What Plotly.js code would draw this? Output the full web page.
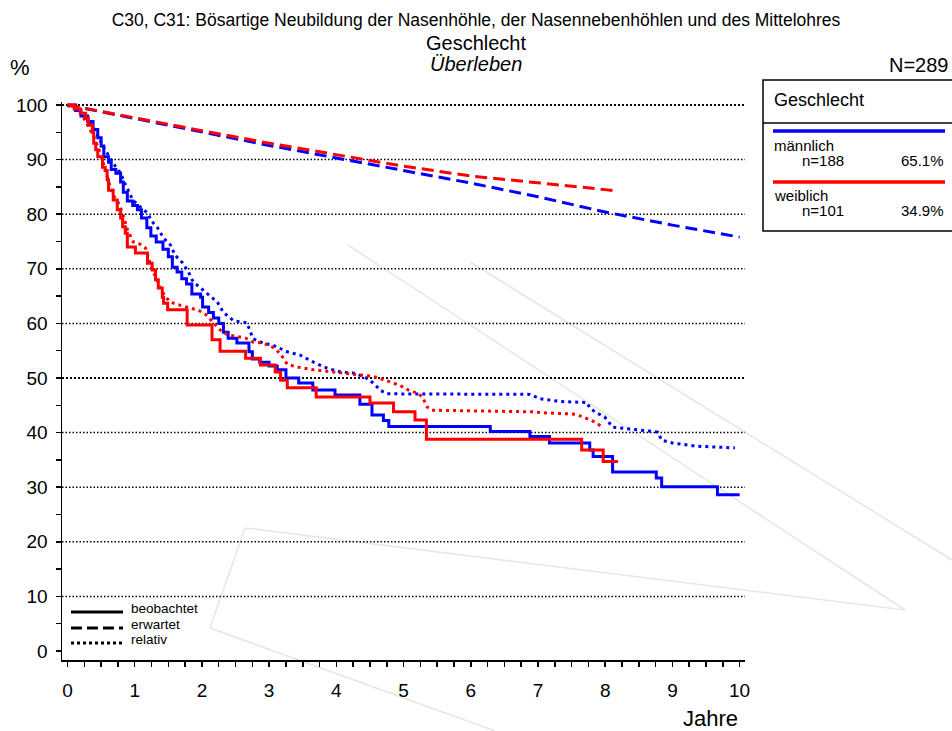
<!DOCTYPE html>
<html>
<head>
<meta charset="utf-8">
<script src="https://cdn.plot.ly/plotly-3.0.1.min.js"></script>
<style>html,body{margin:0;padding:0;background:#fff;}#chart{width:952px;height:731px;}</style>
</head>
<body>
<div id="chart"></div>
<script>
// ---------- data ----------
const maleObsT = [0,0.12,0.2,0.3,0.38,0.45,0.5,0.54,0.61,0.65,0.72,0.79,0.83,0.89,0.97,1.04,1.1,1.18,1.24,1.32,1.42,1.5,1.56,1.63,1.7,1.77,1.85,1.98,2.01,2.1,2.17,2.25,2.32,2.39,2.52,2.7,2.75,2.86,3.0,3.12,3.25,3.44,3.65,3.98,4.35,4.53,4.7,4.78,6.29,6.88,7.17,7.77,7.82,8.11,8.76,8.84,9.67,10.0];
const maleObsS = [100,99,98,97,95.5,94,92.5,90.5,89.5,88.2,87.5,85.9,84,82.4,81.6,80.8,79.3,77.5,76,74.9,73.6,72.2,70.3,69.4,68.2,67.2,65.4,64.8,63,62,61,60,58.4,57.3,56.4,54.8,53.5,52.9,52.2,51.5,50.0,49.1,47.8,46.9,45.2,43.2,42.2,41.1,40.2,39.3,38.1,36.8,35.6,32.8,31.7,30.1,28.6,28.6];

const femaleObsT = [0,0.1,0.19,0.27,0.31,0.37,0.39,0.42,0.45,0.52,0.56,0.59,0.61,0.68,0.74,0.79,0.82,0.86,0.89,1.01,1.19,1.26,1.31,1.35,1.41,1.43,1.49,1.78,2.15,2.27,2.65,2.87,3.09,3.17,3.27,3.7,4.5,4.85,5.17,5.34,7.65,7.97,8.19];
const femaleObsS = [100,99.3,98.5,97.6,96.3,95,93,91.8,90.5,88.6,88,86.3,84.4,82.6,80.8,79.3,77.7,76.5,74,72.9,71,69.8,68,66.5,64.8,63.7,62.5,59.7,57,54.9,53.6,52.4,51.1,49.6,48.2,46.5,45.4,43.8,42.3,38.8,36.8,34.7,34.7];

const maleRelT = [0,0.2,0.4,0.55,0.71,0.79,0.86,0.97,1.05,1.19,1.26,1.34,1.43,1.53,1.6,1.71,1.8,1.87,1.98,2.1,2.23,2.32,2.47,2.67,2.72,2.76,2.91,3.06,3.27,3.46,3.66,3.86,4.06,4.25,4.4,4.5,4.58,4.65,4.75,6.88,7.03,7.33,7.73,7.77,7.87,7.99,8.11,8.32,8.66,8.78,8.84,9.0,9.36,9.93];
const maleRelS = [100,98.5,95.5,92,88.8,87.5,85.5,82.6,81.7,80.2,78.6,77.5,75.6,74.4,72.5,71.1,69.4,67.6,66.5,65.2,63.9,62,60.5,60.1,58.4,57.2,56.4,56,54.8,54.2,52.9,51.8,51.1,50.9,50.3,49.6,48.7,47.8,47.1,47.0,46.2,45.7,45.5,44.5,43.6,42.9,41,40.7,40.3,40.1,38.6,38.1,37.5,37.2];

const femaleRelT = [0,0.2,0.4,0.5,0.61,0.68,0.76,0.82,0.89,0.98,1.08,1.16,1.2,1.26,1.34,1.38,1.45,1.53,1.68,1.85,1.95,2.05,2.15,2.27,2.38,2.5,2.65,2.76,2.91,3.06,3.17,3.27,3.42,3.66,3.95,4.25,4.55,4.8,4.95,5.1,5.22,5.29,5.35,5.42,6.93,7.13,7.52,7.67,7.77,7.85,7.95];
const femaleRelS = [100,98.6,94,90.8,86,83.5,82,80.2,77.2,74.9,74.5,73.8,72.2,69.8,67.8,66.5,65,63.9,63.3,62.7,62.4,61.7,60.3,58.8,57.9,57.6,57.3,56.6,56.4,55.6,54.4,52.5,52,51.5,51.1,50.7,50.3,49.3,48.6,47.6,47.2,46.3,44.7,44.1,43.8,43.6,43.4,42.9,42.3,41.9,41.1];

const maleExpT = [0,1,2,3,4,5,6,7,8,9,10];
const maleExpS = [100,97.5,95.1,92.6,90.3,88.0,85.7,83.2,80.4,78.0,75.8];
const femaleExpT = [0,1,2,3,4,5,6,7,8,8.19];
const femaleExpS = [100,97.6,95.3,93.0,90.9,88.8,87.0,85.8,84.5,84.2];

const groups = ['männlich','weiblich'];
const groupN = ['n=188','n=101'];
const groupPct = ['65.1%','34.9%'];
const xTicks = [0,1,2,3,4,5,6,7,8,9,10];
const yTicks = [0,10,20,30,40,50,60,70,80,90,100];

// ---------- styling ----------
const BLUE = '#0000ff', RED = '#ff0000';
const FONT = 'Liberation Sans, Arial, sans-serif';
const L = 62, R = 745, T = 102, B = 660; // plot area in pixels
const px = v => (v - L) / (R - L);
const py = v => (B - v) / (B - T);
const DASH = '12px,6px', DOT = '3px,4px';

function tr(x, y, color, dash, shape) {
  return {x: x, y: y, type: 'scatter', mode: 'lines', hoverinfo: 'skip', showlegend: false,
    line: {color: color, width: 3, dash: dash, shape: shape || 'linear'}};
}
const traces = [
  tr(maleExpT, maleExpS, BLUE, DASH),
  tr(maleRelT, maleRelS, BLUE, DOT),
  tr(maleObsT, maleObsS, BLUE, 'solid', 'hv'),
  tr(femaleExpT, femaleExpS, RED, DASH),
  tr(femaleRelT, femaleRelS, RED, DOT),
  tr(femaleObsT, femaleObsS, RED, 'solid', 'hv')
];

const shapes = [];
// faint background watermark lines
const wm = [[348,245,905,610],[245,528,905,610],[245,528,210,628],[210,628,495,731],[470,262,952,560]];
wm.forEach(w => shapes.push({type:'line', xref:'paper', yref:'paper', x0:px(w[0]), y0:py(w[1]), x1:px(w[2]), y1:py(w[3]), layer:'below', line:{color:'#e6e6e6', width:1.5}}));
// dotted grid lines
yTicks.filter(v => v > 0).forEach(v => {
  const bold = (v === 50 || v === 100);
  shapes.push({type:'line', xref:'paper', yref:'y', x0:0, x1:1, y0:v, y1:v, layer:'below',
    line:{color:'#000', width: bold ? 2 : 1.5, dash: bold ? '2px,2px' : '1.5px,2px'}});
});
// legend (line styles) lower left
const styleLeg = [['beobachtet','solid',612],['erwartet','11px,5px',628],['relativ','3px,3px',643]];
styleLeg.forEach(s => shapes.push({type:'line', xref:'paper', yref:'paper', x0:px(71), x1:px(123), y0:py(s[2]), y1:py(s[2]), line:{color:'#000', width:3, dash:s[1]}}));
// group legend box
shapes.push({type:'rect', xref:'paper', yref:'paper', x0:px(763), x1:px(958), y0:py(80), y1:py(231), line:{color:'#000', width:1.5}, fillcolor:'rgba(0,0,0,0)'});
shapes.push({type:'line', xref:'paper', yref:'paper', x0:px(763), x1:px(958), y0:py(123), y1:py(123), line:{color:'#000', width:1.5}});
shapes.push({type:'line', xref:'paper', yref:'paper', x0:px(773), x1:px(945), y0:py(131), y1:py(131), line:{color:BLUE, width:3.5}});
shapes.push({type:'line', xref:'paper', yref:'paper', x0:px(773), x1:px(945), y0:py(182), y1:py(182), line:{color:RED, width:3.5}});

function ann(text, x, y, size, xanchor, extra) {
  return Object.assign({text: text, xref:'paper', yref:'paper', x: px(x), y: py(y), xanchor: xanchor || 'left', yanchor:'middle',
    showarrow:false, borderpad:0, font:{family:FONT, size:size, color:'#000'}}, extra || {});
}
const annotations = [
  ann('Geschlecht', 476, 43, 20, 'center'),
  ann('<i>Überleben</i>', 476, 64, 20, 'center'),
  ann('%', 20, 68, 22, 'center'),
  ann('N=289', 888, 65, 20, 'left'),
  ann('Jahre', 710, 718, 22, 'center'),
  ann('Geschlecht', 773, 100, 18, 'left'),
  ann(groups[0], 773, 145, 15, 'left'),
  ann(groupN[0], 801, 160, 15, 'left'),
  ann(groupPct[0], 945, 160, 15, 'right'),
  ann(groups[1], 773, 195, 15, 'left'),
  ann(groupN[1], 801, 210, 15, 'left'),
  ann(groupPct[1], 945, 210, 15, 'right')
];
styleLeg.forEach(s => annotations.push(ann(s[0], 130, s[2] - 4, 13.5, 'left')));

const layout = {
  width: 952, height: 731,
  margin: {l: L, r: 952 - R, t: T, b: 731 - B, pad: 0},
  paper_bgcolor: '#fff', plot_bgcolor: 'rgba(0,0,0,0)',
  showlegend: false,
  title: {text: 'C30, C31: Bösartige Neubildung der Nasenhöhle, der Nasennebenhöhlen und des Mittelohres',
    x: 0.5, xref: 'container', xanchor: 'center', y: 1 - 20/731, yref: 'container', yanchor: 'middle',
    font: {family: FONT, size: 17.5, color: '#000'}},
  xaxis: {range: [-0.082, 10.08], tickmode: 'array', tickvals: xTicks, ticktext: xTicks.map(String),
    ticks: 'outside', ticklen: 5, tickwidth: 1.5, tickcolor: '#000', ticklabelstandoff: 8,
    minor: {dtick: 0.25, tick0: 0, ticks: 'outside', ticklen: 5, tickwidth: 1.5, tickcolor: '#000', showgrid: false},
    showline: true, linecolor: '#000', linewidth: 1.5, showgrid: false, zeroline: false,
    tickfont: {family: FONT, size: 19, color: '#000'}, fixedrange: true},
  yaxis: {range: [-1.65, 100.55], tickmode: 'array', tickvals: yTicks, ticktext: yTicks.map(String),
    ticks: 'outside', ticklen: 5, tickwidth: 1.5, tickcolor: '#000', ticklabelstandoff: 4,
    minor: {dtick: 5, tick0: 0, ticks: 'outside', ticklen: 5, tickwidth: 1.5, tickcolor: '#000', showgrid: false},
    showline: true, linecolor: '#000', linewidth: 1.5, showgrid: false, zeroline: false,
    tickfont: {family: FONT, size: 19, color: '#000'}, fixedrange: true},
  shapes: shapes,
  annotations: annotations
};

Plotly.newPlot('chart', traces, layout, {staticPlot: true, displayModeBar: false});
</script>
</body>
</html>
